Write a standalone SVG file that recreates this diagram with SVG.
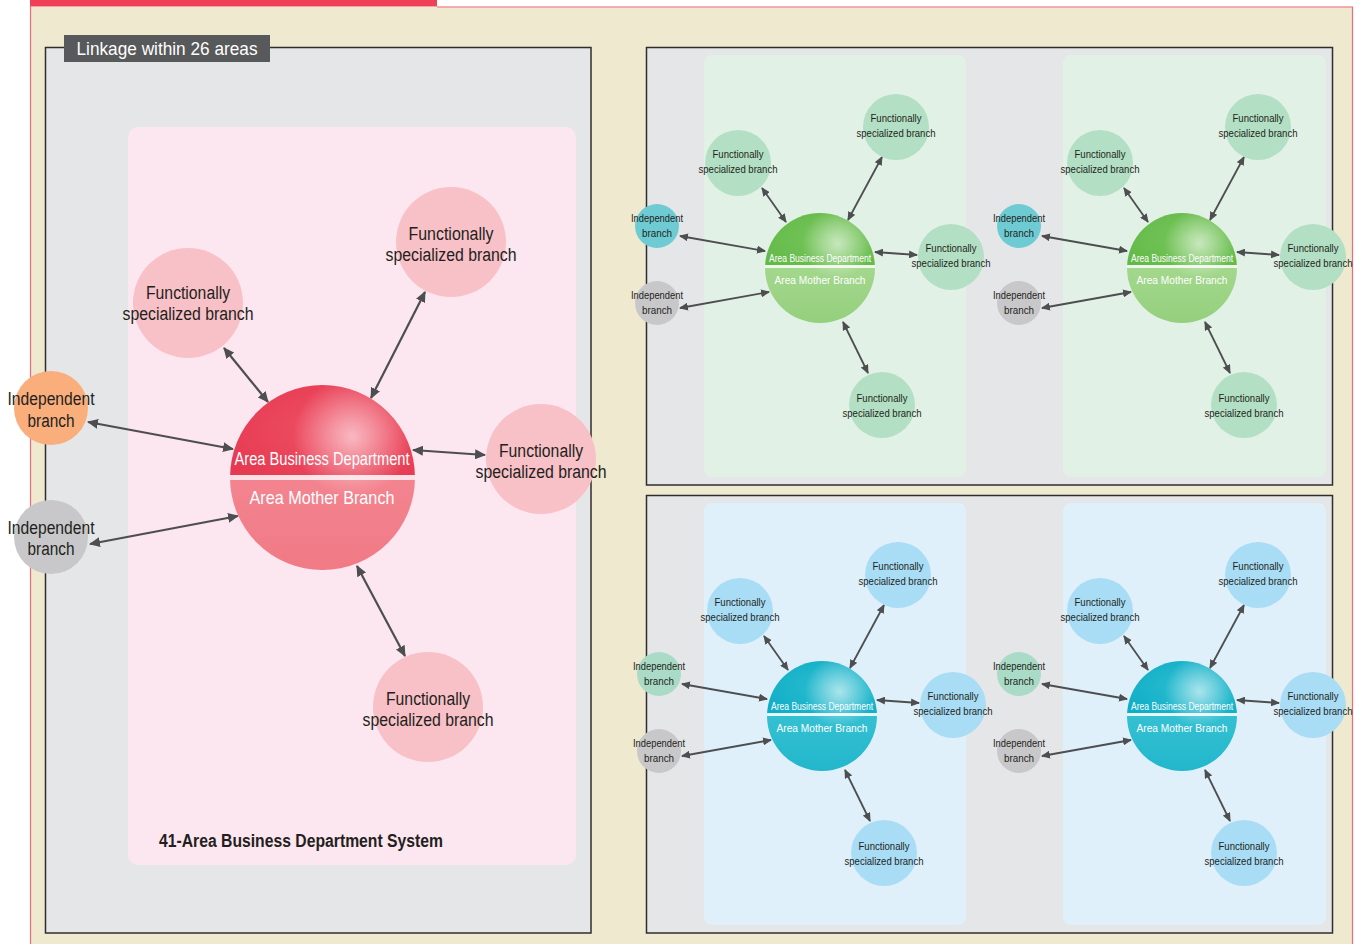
<svg xmlns="http://www.w3.org/2000/svg" width="1363" height="944" viewBox="0 0 1363 944">
  <style>
    text { font-family: "Liberation Sans Narrow", "Liberation Sans", Arial, sans-serif; text-anchor: middle; }
    .lbl { fill: #231f20; }
    .lbl-lg { font-size: 18px; }
    .lbl-sm { font-size: 10.5px; }
    .ctr { fill: #ffffff; }
    .link-lg { stroke: #4d4e50; stroke-width: 2.2; fill: none; marker-start: url(#arrow-lg); marker-end: url(#arrow-lg); }
    .link-sm { stroke: #4d4e50; stroke-width: 1.8; fill: none; marker-start: url(#arrow-sm); marker-end: url(#arrow-sm); }
    .panel { fill: #e5e6e8; stroke: #2e2e2e; stroke-width: 1.5; }
    .fs-pink { fill: #f8c1c7; }
    .ind-orange { fill: #f9ae7c; }
    .ind-gray { fill: #c8c8ca; }
    .fs-green { fill: #b3dfc4; }
    .ind-teal { fill: #6ecbd3; }
    .fs-blue { fill: #a9dcf5; }
    .ind-mint { fill: #a9dbc6; }
  </style>
  <defs>
    <marker id="arrow-lg" markerUnits="userSpaceOnUse" markerWidth="12" markerHeight="10" refX="10" refY="5" orient="auto-start-reverse">
      <path d="M0,0 L11,5 L0,10 z" fill="#4d4e50"/>
    </marker>
    <marker id="arrow-sm" markerUnits="userSpaceOnUse" markerWidth="9" markerHeight="8" refX="8" refY="4" orient="auto-start-reverse">
      <path d="M0,0 L9,4 L0,8 z" fill="#4d4e50"/>
    </marker>
    <clipPath id="ball" clipPathUnits="objectBoundingBox">
      <circle cx="0.5" cy="0.5" r="0.5"/>
    </clipPath>
    <radialGradient id="gloss" cx="0.66" cy="0.28" r="0.32">
      <stop offset="0" stop-color="#ffffff" stop-opacity="0.6"/>
      <stop offset="1" stop-color="#ffffff" stop-opacity="0"/>
    </radialGradient>
    <radialGradient id="red-top" cx="0.6" cy="0.5" r="0.7">
      <stop offset="0" stop-color="#ef5266"/>
      <stop offset="1" stop-color="#e63a51"/>
    </radialGradient>
    <linearGradient id="red-bot" x1="0" y1="0" x2="0" y2="1">
      <stop offset="0" stop-color="#f3848f"/>
      <stop offset="1" stop-color="#f07a86"/>
    </linearGradient>
    <radialGradient id="green-top" cx="0.6" cy="0.5" r="0.7">
      <stop offset="0" stop-color="#78c65d"/>
      <stop offset="1" stop-color="#63b948"/>
    </radialGradient>
    <linearGradient id="green-bot" x1="0" y1="0" x2="0" y2="1">
      <stop offset="0" stop-color="#a3d78d"/>
      <stop offset="1" stop-color="#95d07d"/>
    </linearGradient>
    <radialGradient id="cyan-top" cx="0.6" cy="0.5" r="0.7">
      <stop offset="0" stop-color="#2dbdd0"/>
      <stop offset="1" stop-color="#10aec6"/>
    </radialGradient>
    <linearGradient id="cyan-bot" x1="0" y1="0" x2="0" y2="1">
      <stop offset="0" stop-color="#35c0d2"/>
      <stop offset="1" stop-color="#22b7cc"/>
    </linearGradient>
  </defs>

  <!-- page frame -->
  <rect x="0" y="0" width="1363" height="944" fill="#ffffff"/>
  <rect x="30" y="7" width="1323" height="937" fill="#efe9cf"/>
  <rect x="30" y="0" width="407" height="6.5" fill="#f04058"/>
  <line x1="437" y1="7" x2="1353" y2="7" stroke="#f2929c" stroke-width="1.5"/>
  <line x1="30.5" y1="6" x2="30.5" y2="944" stroke="#ee6a78" stroke-width="1.2"/>
  <line x1="1352.5" y1="7" x2="1352.5" y2="944" stroke="#ee6a78" stroke-width="1.2"/>

  <!-- left panel: one area in detail -->
  <rect class="panel" x="45.5" y="47.5" width="545.5" height="885.5"/>
  <rect x="128" y="127" width="448" height="738" rx="10" fill="#fce6ef"/>
  <g id="title-tab">
    <rect x="64" y="35" width="206" height="27" fill="#58595b"/>
    <text x="167" y="55" font-size="19" fill="#ffffff" textLength="181" lengthAdjust="spacingAndGlyphs">Linkage within 26 areas</text>
  </g>
  <text id="system-caption" x="301" y="847" font-size="18" font-weight="bold" fill="#231f20" textLength="284" lengthAdjust="spacingAndGlyphs">41-Area Business Department System</text>

  <g id="links-main">
    <line class="link-lg" x1="88" y1="422" x2="233" y2="449"/>
    <line class="link-lg" x1="90" y1="544" x2="238" y2="516"/>
    <line class="link-lg" x1="224" y1="348" x2="268" y2="402"/>
    <line class="link-lg" x1="425" y1="292" x2="371" y2="398"/>
    <line class="link-lg" x1="413" y1="450" x2="485" y2="455"/>
    <line class="link-lg" x1="357" y1="566" x2="405" y2="656"/>
  </g>

  <g id="main-fs-nw">
    <circle class="fs-pink" cx="188" cy="303" r="55"/>
    <text class="lbl lbl-lg" x="188" y="298.5" textLength="84" lengthAdjust="spacingAndGlyphs">Functionally</text>
    <text class="lbl lbl-lg" x="188" y="319.5" textLength="131" lengthAdjust="spacingAndGlyphs">specialized branch</text>
  </g>
  <g id="main-fs-ne">
    <circle class="fs-pink" cx="451" cy="242" r="55"/>
    <text class="lbl lbl-lg" x="451" y="239.5" textLength="85" lengthAdjust="spacingAndGlyphs">Functionally</text>
    <text class="lbl lbl-lg" x="451" y="260.5" textLength="131" lengthAdjust="spacingAndGlyphs">specialized branch</text>
  </g>
  <g id="main-fs-e">
    <circle class="fs-pink" cx="541" cy="459" r="55"/>
    <text class="lbl lbl-lg" x="541" y="456.5" textLength="84" lengthAdjust="spacingAndGlyphs">Functionally</text>
    <text class="lbl lbl-lg" x="541" y="477.5" textLength="131" lengthAdjust="spacingAndGlyphs">specialized branch</text>
  </g>
  <g id="main-fs-s">
    <circle class="fs-pink" cx="428" cy="707" r="55"/>
    <text class="lbl lbl-lg" x="428" y="704.5" textLength="84" lengthAdjust="spacingAndGlyphs">Functionally</text>
    <text class="lbl lbl-lg" x="428" y="725.5" textLength="131" lengthAdjust="spacingAndGlyphs">specialized branch</text>
  </g>
  <g id="main-ind-orange">
    <circle class="ind-orange" cx="51" cy="408" r="37"/>
    <text class="lbl lbl-lg" x="51" y="404.5" textLength="87" lengthAdjust="spacingAndGlyphs">Independent</text>
    <text class="lbl lbl-lg" x="51" y="426.5" textLength="47" lengthAdjust="spacingAndGlyphs">branch</text>
  </g>
  <g id="main-ind-gray">
    <circle class="ind-gray" cx="51" cy="537" r="37"/>
    <text class="lbl lbl-lg" x="51" y="533.5" textLength="87" lengthAdjust="spacingAndGlyphs">Independent</text>
    <text class="lbl lbl-lg" x="51" y="554.5" textLength="47" lengthAdjust="spacingAndGlyphs">branch</text>
  </g>
  <g id="main-dept">
    <g clip-path="url(#ball)">
      <rect x="230" y="385" width="185" height="90" fill="url(#red-top)"/>
      <rect x="230" y="475" width="185" height="5" fill="#fbe1e6"/>
      <rect x="230" y="480" width="185" height="90" fill="url(#red-bot)"/>
      <rect x="230" y="385" width="185" height="185" fill="url(#gloss)"/>
    </g>
    <text class="ctr" x="322" y="464.5" font-size="19" textLength="175" lengthAdjust="spacingAndGlyphs">Area Business Department</text>
    <text class="ctr" x="322" y="503.5" font-size="19" textLength="145" lengthAdjust="spacingAndGlyphs">Area Mother Branch</text>
  </g>

  <!-- right panels: other areas -->
  <rect class="panel" x="646.5" y="47.5" width="686" height="437.5"/>
  <rect x="704" y="55" width="262" height="422" rx="8" fill="#e2f1e6"/>
  <rect x="1063" y="55" width="263" height="422" rx="8" fill="#e2f1e6"/>
  <rect class="panel" x="646.5" y="495.5" width="686" height="437.5"/>
  <rect x="704" y="503" width="262" height="422" rx="8" fill="#dff0fa"/>
  <rect x="1063" y="503" width="263" height="422" rx="8" fill="#dff0fa"/>

  <!-- green area, left -->
  <g id="area-green-a" transform="translate(820,268)">
    <g id="links-green-a">
      <line class="link-sm" x1="-140" y1="-32" x2="-55" y2="-17"/>
      <line class="link-sm" x1="-140" y1="40" x2="-51" y2="24"/>
      <line class="link-sm" x1="-58" y1="-80" x2="-34" y2="-46"/>
      <line class="link-sm" x1="62" y1="-111" x2="28" y2="-48"/>
      <line class="link-sm" x1="55" y1="-16" x2="97" y2="-13"/>
      <line class="link-sm" x1="23" y1="54" x2="48" y2="105"/>
    </g>
    <g id="ga-fs-nw"><circle class="fs-green" cx="-82" cy="-105" r="33"/>
      <text class="lbl lbl-sm" x="-82" y="-110" textLength="51" lengthAdjust="spacingAndGlyphs">Functionally</text>
      <text class="lbl lbl-sm" x="-82" y="-95" textLength="79" lengthAdjust="spacingAndGlyphs">specialized branch</text></g>
    <g id="ga-fs-ne"><circle class="fs-green" cx="76" cy="-141" r="33"/>
      <text class="lbl lbl-sm" x="76" y="-146" textLength="51" lengthAdjust="spacingAndGlyphs">Functionally</text>
      <text class="lbl lbl-sm" x="76" y="-131" textLength="79" lengthAdjust="spacingAndGlyphs">specialized branch</text></g>
    <g id="ga-fs-e"><circle class="fs-green" cx="131" cy="-11" r="33"/>
      <text class="lbl lbl-sm" x="131" y="-16" textLength="51" lengthAdjust="spacingAndGlyphs">Functionally</text>
      <text class="lbl lbl-sm" x="131" y="-1" textLength="79" lengthAdjust="spacingAndGlyphs">specialized branch</text></g>
    <g id="ga-fs-s"><circle class="fs-green" cx="62" cy="137" r="33"/>
      <text class="lbl lbl-sm" x="62" y="134" textLength="51" lengthAdjust="spacingAndGlyphs">Functionally</text>
      <text class="lbl lbl-sm" x="62" y="149" textLength="79" lengthAdjust="spacingAndGlyphs">specialized branch</text></g>
    <g id="ga-ind-a"><circle class="ind-teal" cx="-163" cy="-42" r="22"/>
      <text class="lbl lbl-sm" x="-163" y="-46" textLength="52" lengthAdjust="spacingAndGlyphs">Independent</text>
      <text class="lbl lbl-sm" x="-163" y="-31" textLength="30" lengthAdjust="spacingAndGlyphs">branch</text></g>
    <g id="ga-ind-b"><circle class="ind-gray" cx="-163" cy="35" r="22"/>
      <text class="lbl lbl-sm" x="-163" y="31" textLength="52" lengthAdjust="spacingAndGlyphs">Independent</text>
      <text class="lbl lbl-sm" x="-163" y="46" textLength="30" lengthAdjust="spacingAndGlyphs">branch</text></g>
    <g id="ga-dept">
      <g clip-path="url(#ball)">
        <rect x="-55" y="-55" width="110" height="52" fill="url(#green-top)"/>
        <rect x="-55" y="-3" width="110" height="3" fill="#eef8ea"/>
        <rect x="-55" y="0" width="110" height="55" fill="url(#green-bot)"/>
        <rect x="-55" y="-55" width="110" height="110" fill="url(#gloss)"/>
      </g>
      <text class="ctr" x="0" y="-6.5" font-size="11" textLength="102" lengthAdjust="spacingAndGlyphs">Area Business Department</text>
      <text class="ctr" x="0" y="16" font-size="11.5" textLength="91" lengthAdjust="spacingAndGlyphs">Area Mother Branch</text>
    </g>
  </g>

  <!-- green area, right -->
  <g id="area-green-b" transform="translate(1182,268)">
    <g id="links-green-b">
      <line class="link-sm" x1="-140" y1="-32" x2="-55" y2="-17"/>
      <line class="link-sm" x1="-140" y1="40" x2="-51" y2="24"/>
      <line class="link-sm" x1="-58" y1="-80" x2="-34" y2="-46"/>
      <line class="link-sm" x1="62" y1="-111" x2="28" y2="-48"/>
      <line class="link-sm" x1="55" y1="-16" x2="97" y2="-13"/>
      <line class="link-sm" x1="23" y1="54" x2="48" y2="105"/>
    </g>
    <g id="gb-fs-nw"><circle class="fs-green" cx="-82" cy="-105" r="33"/>
      <text class="lbl lbl-sm" x="-82" y="-110" textLength="51" lengthAdjust="spacingAndGlyphs">Functionally</text>
      <text class="lbl lbl-sm" x="-82" y="-95" textLength="79" lengthAdjust="spacingAndGlyphs">specialized branch</text></g>
    <g id="gb-fs-ne"><circle class="fs-green" cx="76" cy="-141" r="33"/>
      <text class="lbl lbl-sm" x="76" y="-146" textLength="51" lengthAdjust="spacingAndGlyphs">Functionally</text>
      <text class="lbl lbl-sm" x="76" y="-131" textLength="79" lengthAdjust="spacingAndGlyphs">specialized branch</text></g>
    <g id="gb-fs-e"><circle class="fs-green" cx="131" cy="-11" r="33"/>
      <text class="lbl lbl-sm" x="131" y="-16" textLength="51" lengthAdjust="spacingAndGlyphs">Functionally</text>
      <text class="lbl lbl-sm" x="131" y="-1" textLength="79" lengthAdjust="spacingAndGlyphs">specialized branch</text></g>
    <g id="gb-fs-s"><circle class="fs-green" cx="62" cy="137" r="33"/>
      <text class="lbl lbl-sm" x="62" y="134" textLength="51" lengthAdjust="spacingAndGlyphs">Functionally</text>
      <text class="lbl lbl-sm" x="62" y="149" textLength="79" lengthAdjust="spacingAndGlyphs">specialized branch</text></g>
    <g id="gb-ind-a"><circle class="ind-teal" cx="-163" cy="-42" r="22"/>
      <text class="lbl lbl-sm" x="-163" y="-46" textLength="52" lengthAdjust="spacingAndGlyphs">Independent</text>
      <text class="lbl lbl-sm" x="-163" y="-31" textLength="30" lengthAdjust="spacingAndGlyphs">branch</text></g>
    <g id="gb-ind-b"><circle class="ind-gray" cx="-163" cy="35" r="22"/>
      <text class="lbl lbl-sm" x="-163" y="31" textLength="52" lengthAdjust="spacingAndGlyphs">Independent</text>
      <text class="lbl lbl-sm" x="-163" y="46" textLength="30" lengthAdjust="spacingAndGlyphs">branch</text></g>
    <g id="gb-dept">
      <g clip-path="url(#ball)">
        <rect x="-55" y="-55" width="110" height="52" fill="url(#green-top)"/>
        <rect x="-55" y="-3" width="110" height="3" fill="#eef8ea"/>
        <rect x="-55" y="0" width="110" height="55" fill="url(#green-bot)"/>
        <rect x="-55" y="-55" width="110" height="110" fill="url(#gloss)"/>
      </g>
      <text class="ctr" x="0" y="-6.5" font-size="11" textLength="102" lengthAdjust="spacingAndGlyphs">Area Business Department</text>
      <text class="ctr" x="0" y="16" font-size="11.5" textLength="91" lengthAdjust="spacingAndGlyphs">Area Mother Branch</text>
    </g>
  </g>

  <!-- cyan area, left -->
  <g id="area-cyan-a" transform="translate(822,716)">
    <g id="links-cyan-a">
      <line class="link-sm" x1="-140" y1="-32" x2="-55" y2="-17"/>
      <line class="link-sm" x1="-140" y1="40" x2="-51" y2="24"/>
      <line class="link-sm" x1="-58" y1="-80" x2="-34" y2="-46"/>
      <line class="link-sm" x1="62" y1="-111" x2="28" y2="-48"/>
      <line class="link-sm" x1="55" y1="-16" x2="97" y2="-13"/>
      <line class="link-sm" x1="23" y1="54" x2="48" y2="105"/>
    </g>
    <g id="ca-fs-nw"><circle class="fs-blue" cx="-82" cy="-105" r="33"/>
      <text class="lbl lbl-sm" x="-82" y="-110" textLength="51" lengthAdjust="spacingAndGlyphs">Functionally</text>
      <text class="lbl lbl-sm" x="-82" y="-95" textLength="79" lengthAdjust="spacingAndGlyphs">specialized branch</text></g>
    <g id="ca-fs-ne"><circle class="fs-blue" cx="76" cy="-141" r="33"/>
      <text class="lbl lbl-sm" x="76" y="-146" textLength="51" lengthAdjust="spacingAndGlyphs">Functionally</text>
      <text class="lbl lbl-sm" x="76" y="-131" textLength="79" lengthAdjust="spacingAndGlyphs">specialized branch</text></g>
    <g id="ca-fs-e"><circle class="fs-blue" cx="131" cy="-11" r="33"/>
      <text class="lbl lbl-sm" x="131" y="-16" textLength="51" lengthAdjust="spacingAndGlyphs">Functionally</text>
      <text class="lbl lbl-sm" x="131" y="-1" textLength="79" lengthAdjust="spacingAndGlyphs">specialized branch</text></g>
    <g id="ca-fs-s"><circle class="fs-blue" cx="62" cy="137" r="33"/>
      <text class="lbl lbl-sm" x="62" y="134" textLength="51" lengthAdjust="spacingAndGlyphs">Functionally</text>
      <text class="lbl lbl-sm" x="62" y="149" textLength="79" lengthAdjust="spacingAndGlyphs">specialized branch</text></g>
    <g id="ca-ind-a"><circle class="ind-mint" cx="-163" cy="-42" r="22"/>
      <text class="lbl lbl-sm" x="-163" y="-46" textLength="52" lengthAdjust="spacingAndGlyphs">Independent</text>
      <text class="lbl lbl-sm" x="-163" y="-31" textLength="30" lengthAdjust="spacingAndGlyphs">branch</text></g>
    <g id="ca-ind-b"><circle class="ind-gray" cx="-163" cy="35" r="22"/>
      <text class="lbl lbl-sm" x="-163" y="31" textLength="52" lengthAdjust="spacingAndGlyphs">Independent</text>
      <text class="lbl lbl-sm" x="-163" y="46" textLength="30" lengthAdjust="spacingAndGlyphs">branch</text></g>
    <g id="ca-dept">
      <g clip-path="url(#ball)">
        <rect x="-55" y="-55" width="110" height="52" fill="url(#cyan-top)"/>
        <rect x="-55" y="-3" width="110" height="3" fill="#e6f7fa"/>
        <rect x="-55" y="0" width="110" height="55" fill="url(#cyan-bot)"/>
        <rect x="-55" y="-55" width="110" height="110" fill="url(#gloss)"/>
      </g>
      <text class="ctr" x="0" y="-6.5" font-size="11" textLength="102" lengthAdjust="spacingAndGlyphs">Area Business Department</text>
      <text class="ctr" x="0" y="16" font-size="11.5" textLength="91" lengthAdjust="spacingAndGlyphs">Area Mother Branch</text>
    </g>
  </g>

  <!-- cyan area, right -->
  <g id="area-cyan-b" transform="translate(1182,716)">
    <g id="links-cyan-b">
      <line class="link-sm" x1="-140" y1="-32" x2="-55" y2="-17"/>
      <line class="link-sm" x1="-140" y1="40" x2="-51" y2="24"/>
      <line class="link-sm" x1="-58" y1="-80" x2="-34" y2="-46"/>
      <line class="link-sm" x1="62" y1="-111" x2="28" y2="-48"/>
      <line class="link-sm" x1="55" y1="-16" x2="97" y2="-13"/>
      <line class="link-sm" x1="23" y1="54" x2="48" y2="105"/>
    </g>
    <g id="cb-fs-nw"><circle class="fs-blue" cx="-82" cy="-105" r="33"/>
      <text class="lbl lbl-sm" x="-82" y="-110" textLength="51" lengthAdjust="spacingAndGlyphs">Functionally</text>
      <text class="lbl lbl-sm" x="-82" y="-95" textLength="79" lengthAdjust="spacingAndGlyphs">specialized branch</text></g>
    <g id="cb-fs-ne"><circle class="fs-blue" cx="76" cy="-141" r="33"/>
      <text class="lbl lbl-sm" x="76" y="-146" textLength="51" lengthAdjust="spacingAndGlyphs">Functionally</text>
      <text class="lbl lbl-sm" x="76" y="-131" textLength="79" lengthAdjust="spacingAndGlyphs">specialized branch</text></g>
    <g id="cb-fs-e"><circle class="fs-blue" cx="131" cy="-11" r="33"/>
      <text class="lbl lbl-sm" x="131" y="-16" textLength="51" lengthAdjust="spacingAndGlyphs">Functionally</text>
      <text class="lbl lbl-sm" x="131" y="-1" textLength="79" lengthAdjust="spacingAndGlyphs">specialized branch</text></g>
    <g id="cb-fs-s"><circle class="fs-blue" cx="62" cy="137" r="33"/>
      <text class="lbl lbl-sm" x="62" y="134" textLength="51" lengthAdjust="spacingAndGlyphs">Functionally</text>
      <text class="lbl lbl-sm" x="62" y="149" textLength="79" lengthAdjust="spacingAndGlyphs">specialized branch</text></g>
    <g id="cb-ind-a"><circle class="ind-mint" cx="-163" cy="-42" r="22"/>
      <text class="lbl lbl-sm" x="-163" y="-46" textLength="52" lengthAdjust="spacingAndGlyphs">Independent</text>
      <text class="lbl lbl-sm" x="-163" y="-31" textLength="30" lengthAdjust="spacingAndGlyphs">branch</text></g>
    <g id="cb-ind-b"><circle class="ind-gray" cx="-163" cy="35" r="22"/>
      <text class="lbl lbl-sm" x="-163" y="31" textLength="52" lengthAdjust="spacingAndGlyphs">Independent</text>
      <text class="lbl lbl-sm" x="-163" y="46" textLength="30" lengthAdjust="spacingAndGlyphs">branch</text></g>
    <g id="cb-dept">
      <g clip-path="url(#ball)">
        <rect x="-55" y="-55" width="110" height="52" fill="url(#cyan-top)"/>
        <rect x="-55" y="-3" width="110" height="3" fill="#e6f7fa"/>
        <rect x="-55" y="0" width="110" height="55" fill="url(#cyan-bot)"/>
        <rect x="-55" y="-55" width="110" height="110" fill="url(#gloss)"/>
      </g>
      <text class="ctr" x="0" y="-6.5" font-size="11" textLength="102" lengthAdjust="spacingAndGlyphs">Area Business Department</text>
      <text class="ctr" x="0" y="16" font-size="11.5" textLength="91" lengthAdjust="spacingAndGlyphs">Area Mother Branch</text>
    </g>
  </g>
</svg>
